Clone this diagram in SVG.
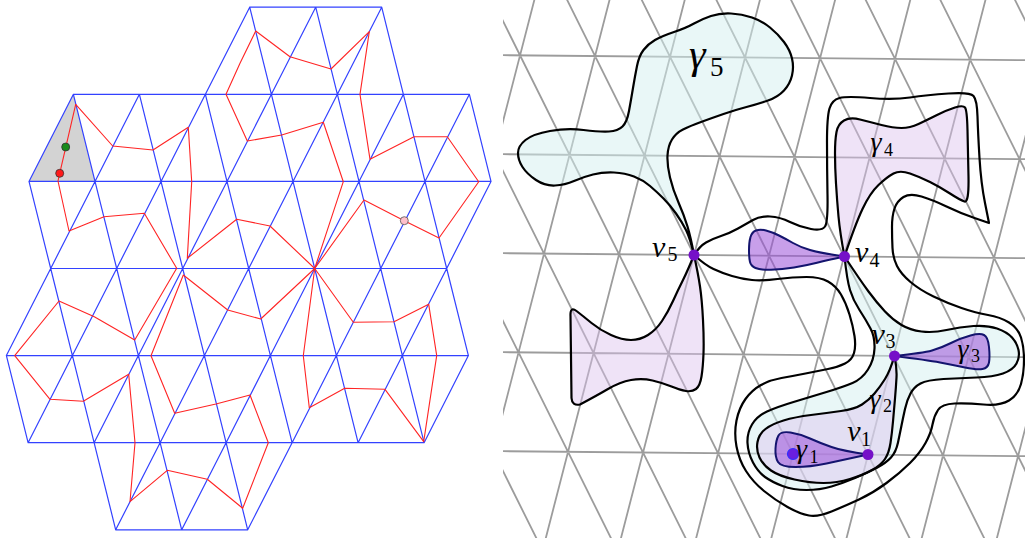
<svg xmlns="http://www.w3.org/2000/svg" width="1025" height="538" viewBox="0 0 1025 538">
<style>
.bl{stroke:#3342ff;stroke-width:1.2;fill:none;stroke-linecap:round}
.rd{stroke:#ff2424;stroke-width:1.1;fill:none;stroke-linejoin:round}
.gr{stroke:#9c9c9c;stroke-width:1.8;fill:none}
.ol{stroke:#000;stroke-width:2.2;fill:none;stroke-linejoin:round}
.cy{fill:#d4f0f0;fill-opacity:0.5;stroke:#000;stroke-width:2.2;stroke-linejoin:round}
.lv{fill:#dcc0ee;fill-opacity:0.45;stroke:#000;stroke-width:2.2;stroke-linejoin:round}
.dk{fill:#9a50d8;fill-opacity:0.55;stroke:#14146e;stroke-width:2;stroke-linejoin:round}
.pt{fill:#7510c8}
.m{font-family:"Liberation Serif",serif;font-style:italic;fill:#000}
.s{font-style:normal}
</style>
<defs>
<clipPath id="rc"><rect x="503" y="0" width="522" height="538"/></clipPath>
</defs>
<rect width="1025" height="538" fill="#fff"/>

<g id="left-panel">
<polygon id="shaded-triangle" points="73.4,94.3 29,181.4 95,181.4" fill="#d3d3d3"/>
<path id="blue-grid" class="bl" d="M249.7,7.2H381.7 M73.4,94.3H469.4 M29,181.4H491 M50.7,268.5H446.7 M6.4,355.6H468.4 M28.1,442.7H424.1 M115.7,529.8H247.7
M249.7,7.2L205.4,94.3 M249.7,7.2L271.4,94.3 M315.7,7.2L271.4,94.3 M315.7,7.2L337.4,94.3 M381.7,7.2L337.4,94.3 M381.7,7.2L403.4,94.3
M73.4,94.3L29,181.4 M73.4,94.3L95,181.4 M139.4,94.3L95,181.4 M139.4,94.3L161,181.4 M205.4,94.3L161,181.4 M205.4,94.3L227,181.4 M271.4,94.3L227,181.4 M271.4,94.3L293,181.4 M337.4,94.3L293,181.4 M337.4,94.3L359,181.4 M403.4,94.3L359,181.4 M403.4,94.3L425,181.4 M469.4,94.3L425,181.4 M469.4,94.3L491,181.4
M29,181.4L50.7,268.5 M95,181.4L50.7,268.5 M95,181.4L116.7,268.5 M161,181.4L116.7,268.5 M161,181.4L182.7,268.5 M227,181.4L182.7,268.5 M227,181.4L248.7,268.5 M293,181.4L248.7,268.5 M293,181.4L314.7,268.5 M359,181.4L314.7,268.5 M359,181.4L380.7,268.5 M425,181.4L380.7,268.5 M425,181.4L446.7,268.5 M491,181.4L446.7,268.5
M50.7,268.5L6.4,355.6 M50.7,268.5L72.4,355.6 M116.7,268.5L72.4,355.6 M116.7,268.5L138.4,355.6 M182.7,268.5L138.4,355.6 M182.7,268.5L204.4,355.6 M248.7,268.5L204.4,355.6 M248.7,268.5L270.4,355.6 M314.7,268.5L270.4,355.6 M314.7,268.5L336.4,355.6 M380.7,268.5L336.4,355.6 M380.7,268.5L402.4,355.6 M446.7,268.5L402.4,355.6 M446.7,268.5L468.4,355.6
M6.4,355.6L28.1,442.7 M72.4,355.6L28.1,442.7 M72.4,355.6L94.1,442.7 M138.4,355.6L94.1,442.7 M138.4,355.6L160.1,442.7 M204.4,355.6L160.1,442.7 M204.4,355.6L226.1,442.7 M270.4,355.6L226.1,442.7 M270.4,355.6L292.1,442.7 M336.4,355.6L292.1,442.7 M336.4,355.6L358.1,442.7 M402.4,355.6L358.1,442.7 M402.4,355.6L424.1,442.7 M468.4,355.6L424.1,442.7
M94.1,442.7L115.7,529.8 M160.1,442.7L115.7,529.8 M160.1,442.7L181.7,529.8 M226.1,442.7L181.7,529.8 M226.1,442.7L247.7,529.8 M292.1,442.7L247.7,529.8"/>
<g id="red-loops">
<path id="loop1" class="rd" d="M75.7,104.3 L59.7,173.3 L58,181 L69,231 L104,216.7 L144.3,213.3 L176.7,268.3 L134.7,340 L94.3,316.7 L59,301 L14.7,355.7 L50,399.3 L83.3,401.3 L128.7,374.3 L135,442.7 L130,501.7 L167.3,470.3 L207.3,479.3 L242.7,508.3 L268.3,442.7 L250,395 L216,404 L174.7,413.3 L151,355.7 L183.3,275 L227.7,310 L260.7,319 L314.7,268.5 L270,226 L236.7,219.3 L187.3,258.3 L191.7,181.7 L188.3,127.3 L153,150 L112.7,146 Z"/>
<path id="loop2" class="rd" d="M314.7,268.5 L343.3,181.7 L323.3,122.3 L281.7,135 L247.3,141 L226,94.3 L240,63.3 L255.7,31 L290,56.7 L331,69 L369.3,31.7 L360,94.3 L370,159.3 L414,136.7 L447.3,136.7 L478.7,181.7 L439,238 L404.3,220.7 L364,200 Z"/>
<path id="loop3" class="rd" d="M314.7,268.5 L353.3,322.3 L394,321.7 L428.7,304.3 L436.7,355.7 L423.7,441.7 L385,389.3 L344.7,388.3 L309.3,407.7 L303.3,355.7 Z"/>
</g>
<g id="left-dots">
<circle id="green-dot" cx="65.7" cy="147" r="4" fill="#1b8a1b" stroke="#333" stroke-width="0.8"/>
<circle id="red-dot" cx="59.7" cy="173.3" r="4" fill="#ff1a1a" stroke="#333" stroke-width="0.8"/>
<circle id="pink-dot" cx="404.3" cy="220.7" r="4" fill="#ffc0cb" stroke="#555" stroke-width="0.8"/>
</g>
</g>

<g id="right-grid" clip-path="url(#rc)" class="gr">
<path d="M503,55.2L1025,60.2 M503,154.2L1025,159.2 M503,253.2L1025,258.2 M503,352.2L1025,357.2 M503,451.2L1025,456.2
M537.9,-13.8L390,559 M612.9,-13.1L465,559.8 M687.9,-12.3L540,560.5 M762.9,-11.6L615,561.2 M837.9,-10.9L690,561.9 M912.9,-10.2L765,562.6 M987.9,-9.5L840,563.4 M1062.9,-8.7L915,564.1 M1137.9,-8L990,564.8
M260.4,-16.5L547.5,560.5 M335.4,-15.7L622.5,561.3 M410.4,-15L697.5,562 M485.4,-14.3L772.5,562.7 M560.4,-13.6L847.5,563.4 M635.4,-12.8L922.5,564.1 M710.4,-12.1L997.5,564.9 M785.4,-11.4L1072.5,565.6 M860.4,-10.7L1147.5,566.3 M935.4,-10L1222.5,567 M1010.4,-9.3L1297.5,567.7"/>
</g>

<g id="regions">
<path id="outer-outline" class="ol" d="M694,255 Q705,265 713.5,269 Q722,273 732,276 Q742,279 752,280 Q762,281 777.5,279 Q793,277 806.5,277 Q820,277 828,281.5 Q836,286 841,294.5 Q846,303 849.5,314.5 Q853,326 854.5,336 Q856,346 854,353 Q852,360 845,363.5 Q838,367 828,369 Q818,371 805.5,373.5 Q793,376 781.5,378 Q770,380 761,385 Q752,390 745.5,399 Q739,408 736.5,420.5 Q734,433 736.5,446.5 Q739,460 746,471 Q753,482 764,491 Q775,500 787.5,507 Q800,514 809,515.5 Q818,517 831.5,511.5 Q845,506 859,499.5 Q873,493 886.5,483 Q900,473 910,463 Q920,453 925.5,443 Q931,433 932.5,424.5 Q934,416 938,410 Q942,404 954.5,403.5 Q967,403 983.5,404.5 Q1000,406 1009,400.5 Q1018,395 1021,384 Q1024,373 1024,360 Q1024,347 1021,337.5 Q1018,328 1009,322.5 Q1000,317 988,315 Q976,313 961.5,308 Q947,303 933.5,296.5 Q920,290 910.5,282 Q901,274 897,266 Q893,258 892.5,248 Q892,238 892,227 Q892,216 894.5,208.5 Q897,201 903.5,197 Q910,193 921.5,196.5 Q933,200 946.5,206.5 Q960,213 974.5,218 L989,223 L985,203 Q981,183 979.5,158 Q978,133 977.5,116.5 Q977,100 973.5,96 Q970,92 948.5,93.5 Q927,95 910,97.5 Q893,100 870,98 Q847,96 839.5,98 Q832,100 829.5,108.5 Q827,117 827,142 Q827,167 827.5,194.5 Q828,222 825,226.5 Q822,231 811,229 Q800,227 790,222 Q780,217 770,216.5 Q760,216 753,220 Q746,224 738,228.5 Q730,233 721,236 Q712,239 706,242.5 Q700,246 694,255 Z"/>
<g id="gamma5"><path class="cy" d="M694,255 Q690,238 686,230 Q682,222 676,213.5 Q670,205 663.5,198.5 Q657,192 650,186 Q643,180 634,176.5 Q625,173 614,172.5 Q603,172 593,174.5 Q583,177 574,181 Q565,185 555,185.5 Q545,186 536,180 Q527,174 522.5,167 Q518,160 518,153 Q518,146 525.5,140 Q533,134 550,131 Q567,128 583.5,130 Q600,132 609,131.5 Q618,131 622.5,126.5 Q627,122 629,111 Q631,100 633,88 Q635,76 637,66 Q639,56 643.5,50 Q648,44 655,40 Q662,36 674,32 Q686,28 694,23.5 Q702,19 711,16 Q720,13 731,13.5 Q742,14 752,17.5 Q762,21 770,27.5 Q778,34 784,42 Q790,50 792,58.5 Q794,67 792,75.5 Q790,84 784,90.5 Q778,97 768,100.5 Q758,104 746.5,107 Q735,110 723.5,114 Q712,118 701,122 Q690,126 683,129.5 Q676,133 672,139.5 Q668,146 667.5,155.5 Q667,165 670,177.5 Q673,190 678.5,202.5 Q684,215 687.5,226.5 Q691,238 694,255 Z"/></g>
<g id="cyan-region"><path class="cy" d="M844.5,256.5 Q847,280 850,290 Q853,300 859.5,310 Q866,320 870.5,328.5 Q875,337 874.5,348.5 Q874,360 868,369.5 Q862,379 852.5,383 Q843,387 826.5,392 Q810,397 793.5,402 Q777,407 767,411.5 Q757,416 752,424.5 Q747,433 747.5,443 Q748,453 753,462.5 Q758,472 765,477 Q772,482 782.5,486 Q793,490 806.5,490 Q820,490 831.5,486.5 Q843,483 855,478 Q867,473 876.5,468 Q886,463 891,457.5 Q896,452 898,442.5 Q900,433 901.5,425.5 Q903,418 905,409 Q907,400 910.5,393.5 Q914,387 920.5,383.5 Q927,380 943.5,379 Q960,378 976.5,377.5 Q993,377 1003,373.5 Q1013,370 1016.5,363.5 Q1020,357 1018.5,350 Q1017,343 1012,337.5 Q1007,332 997,328.5 Q987,325 973.5,326 Q960,327 946.5,330 Q933,333 921.5,331.5 Q910,330 901.5,325 Q893,320 885,311.5 Q877,303 868.5,291.5 Q860,280 844.5,256.5 Z"/></g>
<g id="lower-left-blob"><path class="lv" d="M694,255 Q688,270 683,280 Q678,290 673,301 Q668,312 662,321 Q656,330 648,335 Q640,340 631,340 Q622,340 611,335 Q600,330 591.5,323 Q583,316 576.5,311 Q570,306 570.5,316 L571.5,398 Q572,406 580,404.5 Q596,396 608,389 Q620,382 631,380 Q642,378 652.5,380.5 Q663,383 671.5,386.5 Q680,390 686,391 Q692,392 696,389 Q700,386 701.5,376.5 Q703,367 703.5,353.5 Q704,340 703,320 Q702,300 700,286.5 Q698,273 694,255 Z"/></g>
<g id="gamma4"><path class="lv" d="M844.5,256.5 Q840,233 838.5,216.5 Q837,200 836,183.5 Q835,167 835,153.5 Q835,140 836.5,132 Q838,124 844,120.5 Q850,117 860,119.5 Q870,122 881.5,125 Q893,128 901.5,128 Q910,128 918.5,124 Q927,120 937,115 Q947,110 955,107.5 Q963,105 965,107.5 Q967,110 967.5,130 Q968,150 968.5,176.5 Q969,203 964.5,201.5 Q960,200 950,193.5 Q940,187 930,182 Q920,177 910,173.5 Q900,170 893.5,173.5 Q887,177 878.5,185 Q870,193 862.5,209 Q855,225 844.5,256.5 Z"/></g>
<g id="gamma2"><path class="lv" d="M894.5,356 Q890,371 885,379 Q880,387 874.5,393.5 Q869,400 862,404.5 Q855,409 841,411 Q827,413 811,415 Q795,417 783.5,420.5 Q772,424 765.5,429 Q759,434 757.5,442 Q756,450 759.5,457.5 Q763,465 771,470.5 Q779,476 794.5,479.5 Q810,483 823.5,483 Q837,483 850,479 Q863,475 872,470 Q881,465 885,459 Q889,453 890.5,443 Q892,433 893,421.5 Q894,410 895,398.5 Q896,387 896.5,377.5 Q897,368 894.5,356 Z"/></g>
<g id="blob-v4"><path class="dk" d="M844.5,256.5 Q820,253 810,250 Q800,247 793,243 Q786,239 779,235.5 Q772,232 766,230.5 Q760,229 756,230.5 Q752,232 750.5,237 Q749,242 749,250 Q749,258 750,262 Q751,266 755.5,268 Q760,270 771,269.75 Q782,269.5 794,267.5 Q806,265.5 817,262.75 Q828,260 844.5,256.5 Z"/></g>
<g id="gamma1"><path class="dk" d="M868,454.5 Q843,451 831.5,447 Q820,443 810,438.5 Q800,434 790.5,432.5 Q781,431 778.5,435.5 Q776,440 775.5,448.5 Q775,457 778,462 Q781,467 795.5,467 Q810,467 826.5,463.5 Q843,460 868,454.5 Z"/></g>
<g id="gamma3"><path class="dk" d="M894.5,356 Q923,353 932,350.5 Q941,348 951,343 Q961,338 970.5,335.5 Q980,333 984,335 Q988,337 989,347 Q990,357 989,362.5 Q988,368 982.5,369 Q977,370 965,367.5 Q953,365 940,362.5 Q927,360 894.5,356 Z"/></g>
</g>

<g id="nodes">
<g id="v5"><circle class="pt" cx="694" cy="255" r="5.5"/><text class="m" x="652" y="257" font-size="30">v<tspan class="s" x="667.5" y="261" font-size="20">5</tspan></text></g>
<g id="v4"><circle class="pt" cx="844.5" cy="256.5" r="5.5"/><text class="m" x="855" y="261.5" font-size="30">v<tspan class="s" x="869.5" y="266.5" font-size="20">4</tspan></text></g>
<g id="v3"><circle class="pt" cx="894.5" cy="356" r="5.5"/><text class="m" x="871.5" y="343.5" font-size="30">v<tspan class="s" x="885.5" y="347.5" font-size="20">3</tspan></text></g>
<g id="v1"><circle class="pt" cx="868" cy="454.5" r="5.5"/><text class="m" x="847.3" y="440.5" font-size="30">v<tspan class="s" x="861" y="445.5" font-size="20">1</tspan></text></g>
<g id="g1-point"><circle cx="793" cy="454" r="5.5" fill="#6a1ee0" stroke="#3030ff" stroke-width="1.2"/></g>
<g id="labels">
<text class="m" x="689" y="68" font-size="42">γ<tspan class="s" x="710" y="76" font-size="27">5</tspan></text>
<text class="m" x="870.5" y="151" font-size="28">γ<tspan class="s" x="884" y="156" font-size="18">4</tspan></text>
<text class="m" x="957.5" y="357.5" font-size="28">γ<tspan class="s" x="971" y="362" font-size="18">3</tspan></text>
<text class="m" x="869.5" y="407.5" font-size="28">γ<tspan class="s" x="883" y="412" font-size="18">2</tspan></text>
<text class="m" x="796" y="457.5" font-size="28">γ<tspan class="s" x="809.5" y="462.5" font-size="18">1</tspan></text>
</g>
</g>
</svg>
